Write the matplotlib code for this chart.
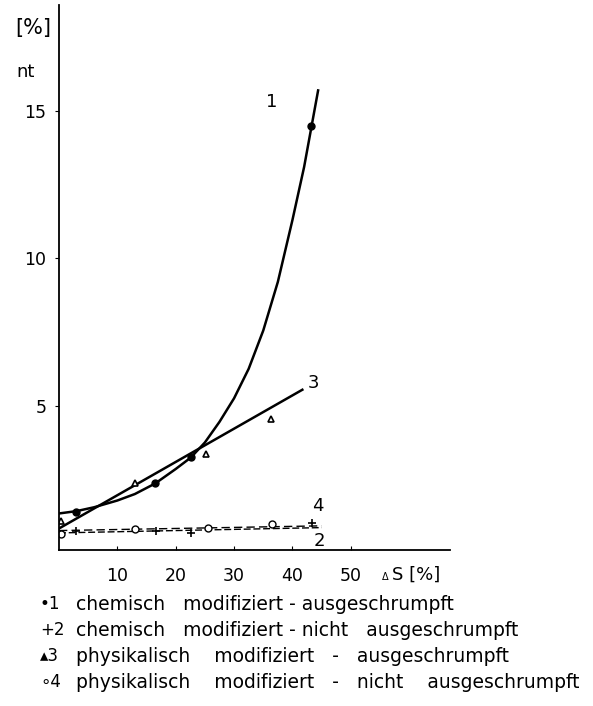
import numpy as np
import matplotlib.pyplot as plt

# measured points
x1 = [2.9, 16.5, 22.6, 43.2]
y1 = [1.40, 2.39, 3.24, 14.5]
x2 = [2.9, 16.6, 22.6, 43.4]
y2 = [0.73, 0.73, 0.69, 1.03]
x3 = [0.3, 13.0, 25.2, 36.4]
y3 = [1.10, 2.39, 3.37, 4.56]
x4 = [0.3, 13.0, 25.5, 36.5]
y4 = [0.66, 0.80, 0.83, 0.97]

# fitted curves
c1_x = [0, 3, 6, 10, 13, 16.5, 20, 22.6, 25, 27.5, 30, 32.5, 35, 37.5, 40, 42, 43.2, 44.4]
c1_y = [1.34, 1.42, 1.55, 1.78, 2.0, 2.36, 2.85, 3.24, 3.75, 4.45, 5.25, 6.25,
        7.55, 9.2, 11.3, 13.1, 14.4, 15.7]
c2_x = [0, 45]
c2_y = [0.68, 0.86]
c3_x = [0, 41.7]
c3_y = [0.83, 5.54]
c4_x = [0, 45]
c4_y = [0.76, 0.92]

legend_text = [
    ('•1', 'chemisch   modifiziert - ausgeschrumpft'),
    ('+2', 'chemisch   modifiziert - nicht   ausgeschrumpft'),
    ('▴3', 'physikalisch    modifiziert   -   ausgeschrumpft'),
    ('∘4', 'physikalisch    modifiziert   -   nicht    ausgeschrumpft'),
]

plt.rcParams['font.family'] = 'DejaVu Sans'
fig = plt.figure(figsize=(5.93, 7.06), dpi=100)
ax = fig.add_axes([59 / 593, 156 / 706, 391 / 593, 545 / 706])

ax.plot(c1_x, c1_y, color='black', lw=1.8)
ax.plot(c3_x, c3_y, color='black', lw=1.8)
ax.plot(c2_x, c2_y, color='black', lw=1.0, ls=(0, (5, 2)))
ax.plot(c4_x, c4_y, color='black', lw=1.0, ls=(0, (6, 3)))

ax.plot(x1, y1, 'o', color='black', ms=5)
ax.plot(x2, y2, '+', color='black', ms=6, mew=1.2)
ax.plot(x3, y3, '^', mfc='white', mec='black', ms=4, mew=1.2)
ax.plot(x4, y4, 'o', mfc='white', mec='black', ms=5, mew=1.0)

ax.text(36.4, 15.3, '1', fontsize=13, ha='center', va='center')
ax.text(43.6, 5.78, '3', fontsize=13, ha='center', va='center')
ax.text(44.3, 1.61, '4', fontsize=13, ha='center', va='center')
ax.text(44.6, 0.42, '2', fontsize=13, ha='center', va='center')

ax.set_xlim(0, 67)
ax.set_ylim(0.1, 18.6)
ax.set_xticks([10, 20, 30, 40, 50])
ax.set_yticks([5, 10, 15])
ax.tick_params(axis='x', direction='in', length=3, labelsize=12.5, pad=12)
ax.tick_params(axis='y', direction='out', length=3, labelsize=12.5, pad=6)
for s in ['top', 'right']:
    ax.spines[s].set_visible(False)
ax.spines['left'].set_linewidth(1.3)
ax.spines['bottom'].set_linewidth(1.3)

fig.text(33 / 593, 1 - 28 / 706, '[%]', fontsize=15, ha='center', va='center')
fig.text(26 / 593, 1 - 72 / 706, 'nt', fontsize=13, ha='center', va='center')
fig.text(385 / 593, 1 - 577 / 706, 'Δ', fontsize=7, ha='center', va='center')
fig.text(392 / 593, 1 - 575 / 706, 'S [%]', fontsize=13, ha='left', va='center')

for i, (mk, txt) in enumerate(legend_text):
    yy = 1 - (604 + 26 * i) / 706
    fig.text(40 / 593, yy, mk, fontsize=12, ha='left', va='center')
    fig.text(76 / 593, yy, txt, fontsize=13.5, ha='left', va='center')

fig.savefig('out.png', dpi=100)
